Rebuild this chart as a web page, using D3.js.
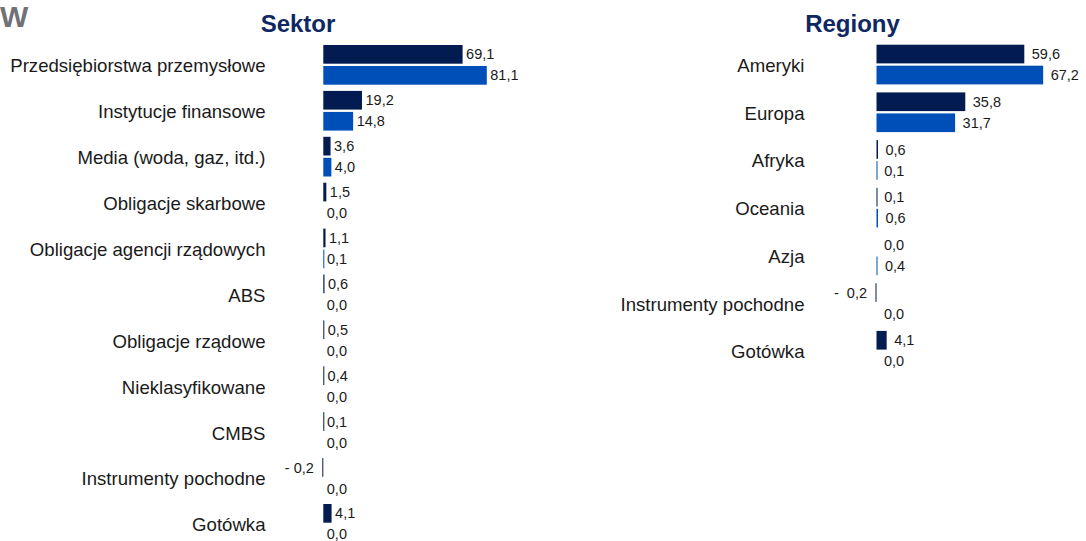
<!DOCTYPE html>
<html>
<head>
<meta charset="utf-8">
<script src="https://cdn.jsdelivr.net/npm/d3@7"></script>
<style>
  body { margin: 0; background: #fff; }
  svg { display: block; font-family: 'Liberation Sans', Arial, sans-serif; }
  .title { font-size: 24px; font-weight: bold; fill: #0f2762; text-anchor: middle; }
  .cat-label { font-size: 18.6px; fill: #1a1a1a; text-anchor: end; }
  .val-label { font-size: 14.5px; fill: #1a1a1a; white-space: pre; }
</style>
</head>
<body>
<svg width="1086" height="541"></svg>
<script>
const seriesKeys = ['fund', 'benchmark'];
const seriesColors = ['#021b50', '#004fb8'];

const sectorNames = [
  'Przedsiębiorstwa przemysłowe', 'Instytucje finansowe', 'Media (woda, gaz, itd.)',
  'Obligacje skarbowe', 'Obligacje agencji rządowych', 'ABS', 'Obligacje rządowe',
  'Nieklasyfikowane', 'CMBS', 'Instrumenty pochodne', 'Gotówka'
];
const sectorFund = [69.1, 19.2, 3.6, 1.5, 1.1, 0.6, 0.5, 0.4, 0.1, -0.2, 4.1];
const sectorBenchmark = [81.1, 14.8, 4.0, 0.0, 0.1, 0.0, 0.0, 0.0, 0.0, 0.0, 0.0];

const regionNames = ['Ameryki', 'Europa', 'Afryka', 'Oceania', 'Azja', 'Instrumenty pochodne', 'Gotówka'];
const regionFund = [59.6, 35.8, 0.6, 0.1, 0.0, -0.2, 4.1];
const regionBenchmark = [67.2, 31.7, 0.1, 0.6, 0.4, 0.0, 0.0];

const svg = d3.select('svg');

// heading letter at the top-left corner
svg.append('text')
  .attr('x', 0)
  .attr('y', 27)
  .attr('font-size', 30)
  .attr('font-weight', 'bold')
  .attr('fill', '#6f7377')
  .text('W');

const fmt = (v, negPrefix) => {
  const s = d3.format('.1f')(Math.abs(v)).replace('.', ',');
  return v < 0 ? negPrefix + s : s;
};

function drawPanel(p) {
  const data = p.names.map((name, i) => ({
    name,
    values: [p.fund[i], p.benchmark[i]]
  }));

  const xScale = d3.scaleLinear()
    .domain([0, 100])
    .range([p.zeroX, p.zeroX + p.pxPerUnit * 100]);

  const yScale = d3.scaleBand()
    .domain(p.names)
    .range([p.top, p.top + p.step * p.names.length])
    .paddingInner(p.padding)
    .paddingOuter(p.padding / 2);

  const subScale = d3.scaleBand()
    .domain(seriesKeys)
    .range([0, yScale.bandwidth()])
    .paddingInner(0.11);

  const x0 = xScale(0);

  svg.append('text')
    .attr('class', 'title')
    .attr('x', p.titleX)
    .attr('y', 32)
    .text(p.title);

  const g = svg.append('g');

  const rows = g.selectAll('.row')
    .data(data)
    .join('g')
    .attr('class', 'row')
    .attr('transform', d => `translate(0,${yScale(d.name)})`);

  rows.append('text')
    .attr('class', 'cat-label')
    .attr('x', p.labelX)
    .attr('y', yScale.bandwidth() / 2 + 1)
    .attr('dy', '0.35em')
    .text(d => d.name);

  const cells = rows.selectAll('.cell')
    .data(d => d.values.map((v, i) => ({ key: seriesKeys[i], color: seriesColors[i], v })))
    .join('g')
    .attr('class', 'cell');

  cells.filter(d => d.v !== 0)
    .append('rect')
    .attr('x', d => d.v < 0 ? Math.min(xScale(d.v), x0 - 1) : x0)
    .attr('y', d => subScale(d.key))
    .attr('width', d => Math.max(1, Math.abs(xScale(d.v) - x0)))
    .attr('height', subScale.bandwidth())
    .attr('fill', d => d.color);

  cells.append('text')
    .attr('class', 'val-label')
    .attr('x', d => d.v < 0 ? x0 - p.negGap : Math.max(xScale(d.v), x0) + p.valGap)
    .attr('y', d => subScale(d.key) + subScale.bandwidth() / 2)
    .attr('dy', '0.35em')
    .attr('text-anchor', d => d.v < 0 ? 'end' : 'start')
    .text(d => fmt(d.v, p.negPrefix));
}

drawPanel({
  title: 'Sektor', titleX: 298,
  names: sectorNames, fund: sectorFund, benchmark: sectorBenchmark,
  zeroX: 323.3, pxPerUnit: 2.016,
  top: 41.9, step: 45.9, padding: 0.135,
  labelX: 265.5, valGap: 3.5, negGap: 9.5, negPrefix: '- '
});

drawPanel({
  title: 'Regiony', titleX: 852.5,
  names: regionNames, fund: regionFund, benchmark: regionBenchmark,
  zeroX: 876.5, pxPerUnit: 2.48,
  top: 40.7, step: 47.7, padding: 0.168,
  labelX: 804.5, valGap: 7.5, negGap: 9.5, negPrefix: '-  '
});
</script>
</body>
</html>
